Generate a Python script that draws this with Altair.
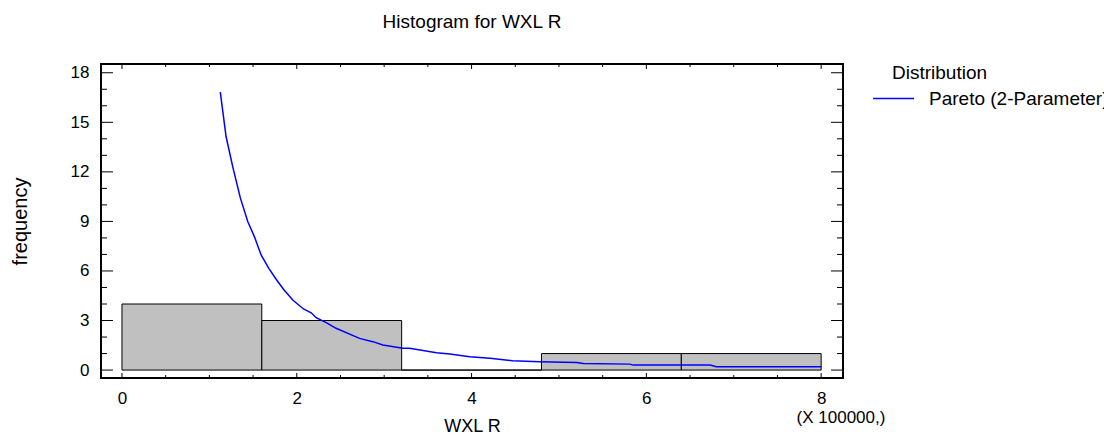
import altair as alt
import pandas as pd

# Histogram bins (in units of 100000) and their counts
bin_start = [0.0, 1.6, 3.2, 4.8, 6.4]
bin_end = [1.6, 3.2, 4.8, 6.4, 8.0]
counts = [4, 3, 0, 1, 1]

# Fitted Pareto (2-parameter) density, scaled to frequency
curve_x = [1.125, 1.191, 1.267, 1.355, 1.439, 1.515, 1.592, 1.680, 1.764, 1.848,
           1.954, 2.077, 2.165, 2.222, 2.337, 2.45, 2.718, 2.87, 2.985, 3.214,
           3.29, 3.6, 3.75, 3.98, 4.21, 4.47, 4.78, 5.2, 5.28, 5.81, 5.85,
           6.73, 6.80, 8.0]
curve_y = [16.83, 14.14, 12.32, 10.41, 8.99, 8.08, 6.97, 6.16, 5.50, 4.89,
           4.24, 3.70, 3.47, 3.17, 2.87, 2.53, 1.92, 1.72, 1.52, 1.32,
           1.32, 1.05, 0.97, 0.81, 0.71, 0.56, 0.50, 0.46, 0.40, 0.36, 0.30,
           0.30, 0.20, 0.20]

x_major = [0, 2, 4, 6, 8]
x_minor = [0.5, 1, 1.5, 2.5, 3, 3.5, 4.5, 5, 5.5, 6.5, 7, 7.5]
y_major = [0, 3, 6, 9, 12, 15, 18]
y_minor = [1, 2, 4, 5, 7, 8, 10, 11, 13, 14, 16, 17]

W, H = 742, 314
FONT = "Liberation Sans"

bars = pd.DataFrame({"start": bin_start, "end": bin_end, "count": counts})
curve = pd.DataFrame({"x": curve_x, "y": curve_y, "dist": "Pareto (2-Parameter)"})

xs = alt.Scale(domain=[-0.24, 8.25], nice=False, zero=False)
ys = alt.Scale(domain=[-0.48, 18.53], nice=False, zero=False)

rects = alt.Chart(bars).mark_rect(fill="#c0c0c0", stroke="black", strokeWidth=1).encode(
    x=alt.X("start:Q", scale=xs,
            axis=alt.Axis(values=x_major, format="d", title="WXL R", domain=False,
                          ticks=False, grid=False, labelFontSize=17, labelPadding=12,
                          titleFontSize=18, titleFontWeight="normal", titlePadding=11,
                          labelFont=FONT, titleFont=FONT, labelColor="black",
                          titleColor="black")),
    x2="end:Q",
    y=alt.Y("count:Q", scale=ys,
            axis=alt.Axis(values=y_major, format="d", title="frequency", domain=False,
                          ticks=False, grid=False, labelFontSize=17, labelPadding=12,
                          titleFontSize=20, titleFontWeight="normal", titlePadding=40,
                          labelFont=FONT, titleFont=FONT, labelColor="black",
                          titleColor="black")),
    y2=alt.datum(0),
)

line = alt.Chart(curve).mark_line(strokeWidth=1.5).encode(
    x=alt.X("x:Q", scale=xs),
    y=alt.Y("y:Q", scale=ys),
    color=alt.Color("dist:N", scale=alt.Scale(range=["#0000ff"]),
                    legend=alt.Legend(title=None, orient="none", legendX=771, legendY=13,
                                      symbolType="stroke", symbolSize=1681,
                                      symbolStrokeWidth=1.5, labelFontSize=19,
                                      labelFont=FONT, labelColor="black",
                                      labelOffset=14, padding=0, labelLimit=400)),
)

# inward tick marks on all four sides of the frame
def xticks(vals, length):
    df = pd.DataFrame({"v": vals})
    bottom = alt.Chart(df).mark_rule(color="black", strokeWidth=1).encode(
        x=alt.X("v:Q", scale=xs), y=alt.value(H), y2=alt.value(H - length))
    top = alt.Chart(df).mark_rule(color="black", strokeWidth=1).encode(
        x=alt.X("v:Q", scale=xs), y=alt.value(0), y2=alt.value(length))
    return bottom + top

def yticks(vals, length):
    df = pd.DataFrame({"v": vals})
    left = alt.Chart(df).mark_rule(color="black", strokeWidth=1).encode(
        y=alt.Y("v:Q", scale=ys), x=alt.value(0), x2=alt.value(length))
    right = alt.Chart(df).mark_rule(color="black", strokeWidth=1).encode(
        y=alt.Y("v:Q", scale=ys), x=alt.value(W), x2=alt.value(W - length))
    return left + right

legend_title = alt.Chart(pd.DataFrame({"t": ["Distribution"]})).mark_text(
    align="left", baseline="middle", fontSize=19, font=FONT, color="black"
).encode(x=alt.value(791), y=alt.value(9), text="t:N")

scale_note = alt.Chart(pd.DataFrame({"t": ["(X 100000,)"]})).mark_text(
    align="center", baseline="middle", fontSize=17, font=FONT, color="black"
).encode(x=alt.value(740), y=alt.value(354), text="t:N")

chart = alt.layer(
    rects, line,
    xticks(x_major, 5), xticks(x_minor, 3),
    yticks(y_major, 12), yticks(y_minor, 6),
    legend_title, scale_note,
).properties(
    width=W, height=H,
    background="white",
    autosize=alt.AutoSizeParams(type="none"),
    padding={"left": 101, "top": 64, "right": 1104 - 101 - W, "bottom": 438 - 64 - H},
    title=alt.TitleParams("Histogram for WXL R", fontSize=19, font=FONT,
                          fontWeight="normal", color="black", anchor="middle", offset=32),
).configure_view(stroke="black", strokeWidth=2)

chart.save("out.html", embed_options={"renderer": "svg", "actions": False})
